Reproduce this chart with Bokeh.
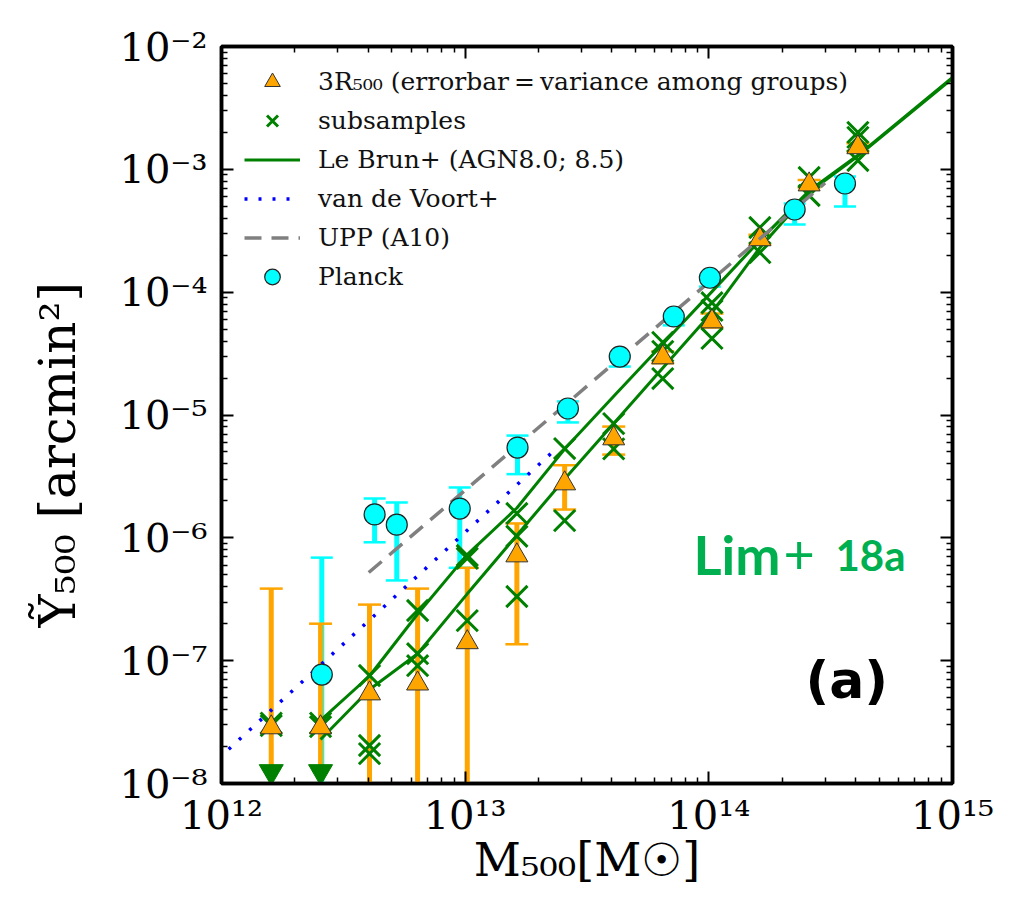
import math
from bokeh.plotting import figure
from bokeh.models import (FixedTicker, LogAxis, Label, Legend, LegendItem,
                          CustomJSTickFormatter, Range1d)
from bokeh.embed import file_html
from bokeh.resources import INLINE

# ---------------- data ----------------
x_major = [1e12, 1e13, 1e14, 1e15]
y_major = [1e-8, 1e-7, 1e-6, 1e-5, 1e-4, 1e-3, 1e-2]

# Planck (cyan circles with error bars)
planck_m = [2.58e12, 4.25e12, 5.24e12, 9.5e12, 1.64e13, 2.64e13, 4.31e13, 7.18e13, 1.01e14, 2.25e14, 3.62e14]
planck_y = [7.7e-8, 1.55e-6, 1.28e-6, 1.73e-6, 5.43e-6, 1.13e-5, 2.99e-5, 6.34e-5, 1.31e-4, 4.71e-4, 7.67e-4]
planck_lo = [1e-9, 9.2e-7, 4.5e-7, 5.7e-7, 3.3e-6, 8.7e-6, 2.48e-5, 5.37e-5, 1.11e-4, 3.56e-4, 4.98e-4]
planck_hi = [6.9e-7, 2.09e-6, 1.94e-6, 2.57e-6, 6.8e-6, 1.29e-5, 3.05e-5, 6.5e-5, 1.33e-4, 5.27e-4, 8.75e-4]

# 3R500 (orange triangles with error bars)
tri_m = [1.6e12, 2.55e12, 4.05e12, 6.38e12, 1.02e13, 1.63e13, 2.56e13, 4.07e13, 6.47e13, 1.03e14, 1.62e14, 2.58e14, 4.09e14]
tri_y = [2.86e-8, 2.86e-8, 5.4e-8, 6.5e-8, 1.41e-7, 7.18e-7, 2.77e-6, 6.44e-6, 2.94e-5, 5.77e-5, 2.69e-4, 7.52e-4, 1.51e-3]
tri_lo = [1e-9, 1e-9, 1e-9, 1e-9, 1e-9, 1.36e-7, 1.7e-6, 4.76e-6, 2.64e-5, 5.15e-5, 2.44e-4, 7.1e-4, 1.4e-3]
tri_hi = [3.86e-7, 2.0e-7, 2.86e-7, 3.86e-7, 5.7e-7, 1.31e-6, 3.9e-6, 8.05e-6, 3.3e-5, 6.7e-5, 2.94e-4, 8.2e-4, 1.63e-3]

# upper limits (green down triangles)
lim_m = [1.6e12, 2.55e12]
lim_y = [1.25e-8, 1.25e-8]

# subsamples (green x)
sub_m = [1.6e12, 1.6e12, 2.55e12, 2.55e12, 4.05e12, 4.05e12, 4.05e12, 6.38e12, 6.38e12, 6.38e12,
         1.02e13, 1.02e13, 1.02e13, 1.63e13, 1.63e13, 1.63e13, 2.56e13, 2.56e13, 4.07e13, 4.07e13,
         6.47e13, 6.47e13, 6.47e13, 1.03e14, 1.03e14, 1.03e14, 1.62e14, 1.62e14, 2.58e14, 2.58e14,
         4.09e14, 4.09e14, 4.09e14]
sub_y = [2.96e-8, 3.1e-8, 2.9e-8, 3.1e-8, 7.57e-8, 2.04e-8, 1.75e-8, 2.56e-7, 1.14e-7, 9.1e-8,
         7.18e-7, 6.8e-7, 2.12e-7, 1.58e-6, 1.03e-6, 3.33e-7, 5.33e-6, 1.38e-6, 8.5e-6, 5.3e-6,
         3.9e-5, 3.3e-5, 1.98e-5, 8.2e-5, 7.1e-5, 4.2e-5, 3.36e-4, 2.1e-4, 8.59e-4, 6.12e-4,
         2.0e-3, 1.82e-3, 1.18e-3]

# Le Brun+ (AGN8.0 ; AGN8.5)
lb_m = [2.55e12, 4.05e12, 6.38e12, 1.02e13, 1.63e13, 2.56e13, 4.07e13, 6.47e13, 1.03e14, 1.62e14, 2.58e14, 4.09e14, 1e15]
lb80_y = [3.26e-8, 7.5e-8, 2.4e-7, 7.3e-7, 1.75e-6, 5.28e-6, 1.42e-5, 3.79e-5, 1.01e-4, 2.64e-4, 6.7e-4, 1.3e-3, 5.6e-3]
lb85_y = [2.28e-8, 5.82e-8, 1.14e-7, 3.5e-7, 1.05e-6, 3.01e-6, 8.53e-6, 2.41e-5, 6.82e-5, 2.3e-4, 6.5e-4, 1.28e-3, 5.5e-3]

# van de Voort+
vdv_m = [1.07e12, 2.36e13]
vdv_y = [1.9e-8, 5.3e-6]

# UPP (A10)
upp_m = [4.02e12, 3.0e14]
upp_y = [5.22e-7, 7.74e-4]

# ---------------- figure ----------------
W, H = 1005, 920
p = figure(width=W, height=H, x_axis_type="log", y_axis_type="log",
           x_range=Range1d(1e12, 1e15), y_range=Range1d(1e-8, 1e-2),
           output_backend="svg", toolbar_location=None,
           min_border_left=221, min_border_right=W - 952, min_border_top=46, min_border_bottom=H - 783)
p.background_fill_color = "white"
p.border_fill_color = "white"
p.xgrid.visible = False
p.ygrid.visible = False
p.outline_line_color = "black"
p.outline_line_width = 3.5

bottom_ax = p.below[0]
left_ax = p.left[0]
top_ax = LogAxis()
right_ax = LogAxis()
p.add_layout(top_ax, "above")
p.add_layout(right_ax, "right")

x_minor = [m * t for t in x_major[:-1] for m in range(2, 10)]
y_minor = [m * t for t in y_major[:-1] for m in range(2, 10)]

sup_js = """
const sup = {"0":"\u2070","1":"\u00b9","2":"\u00b2","3":"\u00b3","4":"\u2074","5":"\u2075",
             "6":"\u2076","7":"\u2077","8":"\u2078","9":"\u2079","-":"\u207b"};
const e = Math.round(Math.log10(tick));
return "10" + String(e).split("").map(c => sup[c]).join("");
"""
blank_js = 'return "";'

for ax, ticks, minors, fmt in [(bottom_ax, x_major, x_minor, sup_js), (left_ax, y_major, y_minor, sup_js),
                                (top_ax, x_major, x_minor, blank_js), (right_ax, y_major, y_minor, blank_js)]:
    ax.ticker = FixedTicker(ticks=ticks, minor_ticks=minors)
    ax.formatter = CustomJSTickFormatter(code=fmt)
    ax.axis_line_width = 3.5
    ax.axis_line_color = "black"
    ax.major_tick_in = 12
    ax.major_tick_out = 0
    ax.minor_tick_in = 6
    ax.minor_tick_out = 0
    ax.major_tick_line_width = 2
    ax.minor_tick_line_width = 1.5
    ax.major_label_text_font = "DejaVu Serif"
    ax.major_label_text_font_size = "40px"
    ax.major_label_text_color = "black"

for ax in (top_ax, right_ax):
    ax.major_label_text_font_size = "1px"
    ax.major_label_standoff = 0

left_ax.major_label_standoff = 14
bottom_ax.major_label_standoff = 8

bottom_ax.axis_label = "M\u2085\u2080\u2080[M\u2609]"
bottom_ax.axis_label_text_font = "DejaVu Serif"
bottom_ax.axis_label_text_font_size = "46px"
bottom_ax.axis_label_text_font_style = "normal"
bottom_ax.axis_label_text_color = "black"
bottom_ax.axis_label_standoff = -8

# trailing no-break spaces move the visible label down along the axis, as in the original
left_ax.axis_label = "\u1ef8\u2085\u2080\u2080 [arcmin\u00b2]" + "\u00a0" * 5
left_ax.axis_label_text_font = "DejaVu Serif"
left_ax.axis_label_text_font_size = "50px"
left_ax.axis_label_text_font_style = "normal"
left_ax.axis_label_text_color = "black"
left_ax.axis_label_standoff = 29

# ---------------- glyphs ----------------
def caps(ms, vals):
    mm = [m for m, v in zip(ms, vals) if v >= 1e-8]
    vv = [v for v in vals if v >= 1e-8]
    return dict(x=mm, y=vv)

# Planck error bars
p.segment(x0=planck_m, y0=planck_lo, x1=planck_m, y1=planck_hi, line_color="#00FFFF", line_width=5)
p.scatter(marker="dash", size=22, line_color="#00FFFF", line_width=2.5, **caps(planck_m, planck_hi))
p.scatter(marker="dash", size=22, line_color="#00FFFF", line_width=2.5, **caps(planck_m, planck_lo))

# 3R500 error bars
p.segment(x0=tri_m, y0=tri_lo, x1=tri_m, y1=tri_hi, line_color="#FFA500", line_width=5)
p.scatter(marker="dash", size=23, line_color="#FFA500", line_width=2.5, **caps(tri_m, tri_hi))
p.scatter(marker="dash", size=23, line_color="#FFA500", line_width=2.5, **caps(tri_m, tri_lo))

# subsamples
r_sub = p.scatter(x=sub_m, y=sub_y, marker="x", size=30, line_color="green", line_width=3)

# Le Brun
r_lb = p.line(x=lb_m, y=lb80_y, line_color="green", line_width=3)
p.line(x=lb_m, y=lb85_y, line_color="green", line_width=3)

# triangles
r_tri = p.scatter(x=tri_m, y=tri_y, marker="triangle", size=22, fill_color="#FFA500",
                  line_color="#333333", line_width=1)

# upper limits
p.scatter(x=lim_m, y=lim_y, marker="inverted_triangle", size=24, fill_color="green", line_color="green")

# van de Voort
r_vdv = p.line(x=vdv_m, y=vdv_y, line_color="blue", line_width=3.5, line_dash="3 11")

# UPP
r_upp = p.line(x=upp_m, y=upp_y, line_color="gray", line_width=3.5, line_dash="17 10")

# Planck circles
r_pl = p.scatter(x=planck_m, y=planck_y, marker="circle", size=21, fill_color="#00FFFF",
                 line_color="#222222", line_width=1.2)

legend = Legend(items=[
    LegendItem(label="3R\u2085\u2080\u2080 (errorbar\u2009=\u2009variance among groups)", renderers=[r_tri]),
    LegendItem(label="subsamples", renderers=[r_sub]),
    LegendItem(label="Le Brun+ (AGN8.0; 8.5)", renderers=[r_lb]),
    LegendItem(label="van de Voort+", renderers=[r_vdv]),
    LegendItem(label="UPP (A10)", renderers=[r_upp]),
    LegendItem(label="Planck", renderers=[r_pl]),
], location=(23, 487))
legend.margin = 0
legend.padding = 0
legend.spacing = 0
legend.glyph_height = 39
legend.glyph_width = 56
legend.label_height = 39
legend.label_standoff = 18
legend.label_text_font = "DejaVu Serif"
legend.label_text_font_size = "25px"
legend.label_text_color = "#111111"
legend.border_line_alpha = 0
legend.background_fill_alpha = 0
p.add_layout(legend, "center")

# ---------------- annotations ----------------
p.add_layout(Label(x=472, y=229, x_units="screen", y_units="screen", text="Lim",
                   text_baseline="alphabetic", text_font="Lato", text_font_style="bold",
                   text_font_size="54px", text_color="#00B050"))
p.add_layout(Label(x=562, y=229, x_units="screen", y_units="screen", text="+",
                   text_baseline="alphabetic", text_font="Lato", text_font_style="normal",
                   text_font_size="54px", text_color="#00B050"))
p.add_layout(Label(x=614, y=229, x_units="screen", y_units="screen", text="18a",
                   text_baseline="alphabetic", text_font="Lato", text_font_style="bold",
                   text_font_size="42px", text_color="#00B050"))
p.add_layout(Label(x=584, y=104, x_units="screen", y_units="screen", text="(a)",
                   text_baseline="alphabetic", text_font="DejaVu Sans", text_font_style="bold",
                   text_font_size="52px", text_color="black"))

open("out.html", "w").write(file_html(p, INLINE))
